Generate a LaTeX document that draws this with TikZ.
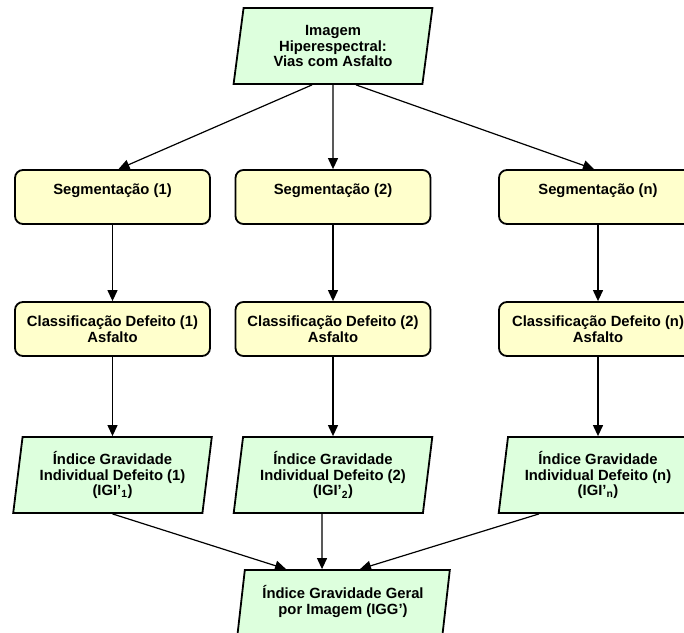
\documentclass[tikz,border=0pt]{standalone}
\usepackage{fontspec}
\setmainfont{Liberation Sans}
\usepackage{tikz}
\usetikzlibrary{arrows.meta,shapes.geometric}
\usepackage{xcolor}
\definecolor{boxyellow}{RGB}{255, 255, 204}
\definecolor{paragreen}{RGB}{221, 255, 221}

\begin{document}
\begin{tikzpicture}[x=1pt,y=-1pt,
    every node/.style={font=\fontsize{14.8}{15.8}\selectfont\bfseries, align=center},
    procbox/.style={draw, line width=1.8pt, rounded corners=8pt, fill=boxyellow,
        minimum width=195pt, minimum height=54pt, inner sep=0pt},
    iobox/.style={draw, line width=1.8pt, fill=paragreen, trapezium,
        trapezium left angle=81, trapezium right angle=99, trapezium stretches=true,
        minimum width=199pt, minimum height=76pt, inner sep=0pt},
    flow/.style={-{Triangle[length=11pt,width=10pt]}, line width=1.2pt}]
    \useasboundingbox (0,0) rectangle (684,632);

    % Input image
    \node[iobox] (img) at (333,46) {Imagem\\Hiperespectral:\\Vias com Asfalto};

    % Segmentation
    \node[procbox] (seg1) at (112.5,197) {Segmentação (1)\\~};
    \node[procbox] (seg2) at (333,197) {Segmentação (2)\\~};
    \node[procbox, minimum width=198pt] (segn) at (598,197) {Segmentação (n)\\~};

    % Classification
    \node[procbox] (cls1) at (112.5,329) {Classificação Defeito (1)\\Asfalto};
    \node[procbox] (cls2) at (333,329) {Classificação Defeito (2)\\Asfalto};
    \node[procbox, minimum width=198pt] (clsn) at (598,329) {Classificação Defeito (n)\\Asfalto};

    % Individual indices
    \node[iobox] (igi1) at (112.5,475) {Índice Gravidade\\Individual Defeito (1)\\(IGI’\textsubscript{1})};
    \node[iobox] (igi2) at (333,475) {Índice Gravidade\\Individual Defeito (2)\\(IGI’\textsubscript{2})};
    \node[iobox] (igin) at (598,475) {Índice Gravidade\\Individual Defeito (n)\\(IGI’\textsubscript{n})};

    % General index
    \node[iobox, minimum width=214pt] (igg) at (343,608) {Índice Gravidade Geral\\por Imagem (IGG’)\\~};

    % Connectors
    \draw[flow] ([xshift=-21pt]img.south) -- ([xshift=6pt]seg1.north);
    \draw[flow] (img.south) -- (seg2.north);
    \draw[flow] ([xshift=23pt]img.south) -- ([xshift=-4pt]segn.north);

    \draw[flow] (seg1) -- (cls1);
    \draw[flow] (seg2) -- (cls2);
    \draw[flow] (segn) -- (clsn);

    \draw[flow] (cls1) -- (igi1);
    \draw[flow] (cls2) -- (igi2);
    \draw[flow] (clsn) -- (igin);

    \draw[flow] (igi1.south) -- ([xshift=-57pt]igg.north);
    \draw[flow] ([xshift=-11pt]igi2.south) -- ([xshift=-21pt]igg.north);
    \draw[flow] ([xshift=-59pt]igin.south) -- ([xshift=17pt]igg.north);
\end{tikzpicture}
\end{document}
